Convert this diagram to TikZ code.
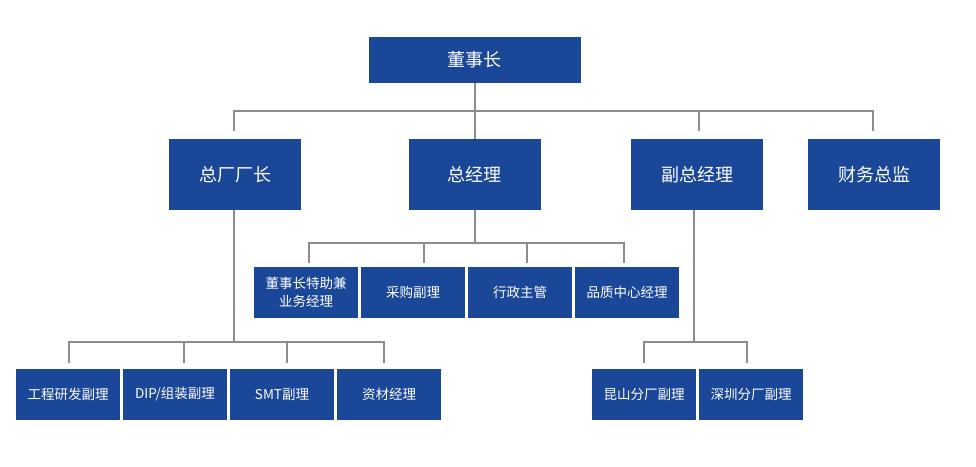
\documentclass[tikz,border=0pt]{standalone}
\usepackage{fontspec}
\setmainfont{Noto Sans CJK SC}
\usepackage{xcolor}
\definecolor{boxblue}{RGB}{27,71,152}
\definecolor{linegray}{RGB}{140,140,140}
\tikzset{
	main node/.style={rectangle,fill=boxblue,text=white,inner sep=0pt,outer sep=0pt},
	top node/.style={main node,minimum width=212pt,minimum height=46pt,font=\fontsize{18}{22}\selectfont},
	head node/.style={main node,minimum width=132pt,minimum height=71pt,font=\fontsize{18}{22}\selectfont},
	sub node/.style={main node,minimum width=104pt,minimum height=51pt,align=center,font=\fontsize{13.5}{18}\selectfont},
	link/.style={draw=linegray,line width=2pt}
}
\begin{document}
\begin{tikzpicture}[x=1pt,y=-1pt]
	\useasboundingbox (0,0) rectangle (976,466);
	% boxes
	\node [top node] (chair) at (474.5,60) {董事长};
	\node [head node] (plant) at (235,174.5) {总厂厂长};
	\node [head node] (gm) at (474.5,174.5) {总经理};
	\node [head node] (vgm) at (697,174.5) {副总经理};
	\node [head node] (cfo) at (874,174.5) {财务总监};
	\node [sub node] (assist) at (306,292.5) {董事长特助兼\\业务经理};
	\node [sub node] (buy) at (413,292.5) {采购副理};
	\node [sub node] (admin) at (520,292.5) {行政主管};
	\node [sub node] (qc) at (627,292.5) {品质中心经理};
	\node [sub node] (rd) at (68,394.5) {工程研发副理};
	\node [sub node] (dip) at (175,394.5) {DIP/组装副理};
	\node [sub node] (smt) at (282,394.5) {SMT副理};
	\node [sub node] (mat) at (389,394.5) {资材经理};
	\node [sub node] (ks) at (644,394.5) {昆山分厂副理};
	\node [sub node] (sz) at (751,394.5) {深圳分厂副理};
	% bus lines
	\coordinate (bus0) at (474.5,111);
	\coordinate (bus1) at (474.5,243);
	\coordinate (bus2) at (234,342);
	\coordinate (bus3) at (694,342);
	\coordinate (t01) at (234,131);
	\coordinate (t02) at (699,131);
	\coordinate (t03) at (873,131);
	\coordinate (t11) at (309,262.5);
	\coordinate (t12) at (424,262.5);
	\coordinate (t13) at (527,262.5);
	\coordinate (t14) at (624,262.5);
	\coordinate (t21) at (69,362.5);
	\coordinate (t22) at (184,362.5);
	\coordinate (t23) at (287,362.5);
	\coordinate (t24) at (384,362.5);
	\coordinate (t31) at (644,362.5);
	\coordinate (t32) at (747,362.5);
	% connectors
	\draw [link] (chair) -- (gm);
	\draw [link] (t01) |- (bus0) -| (t03);
	\draw [link] (t02) -- (t02 |- bus0);
	\draw [link] (gm) -- (bus1);
	\draw [link] (t11) |- (bus1) -| (t14);
	\foreach \t in {t12,t13}
		\draw [link] (\t) -- (\t |- bus1);
	\draw [link] (plant.south -| bus2) -- (bus2);
	\draw [link] (t21) |- (bus2) -| (t24);
	\foreach \t in {t22,t23}
		\draw [link] (\t) -- (\t |- bus2);
	\draw [link] (vgm.south -| bus3) -- (bus3);
	\draw [link] (t31) |- (bus3) -| (t32);
\end{tikzpicture}
\end{document}
